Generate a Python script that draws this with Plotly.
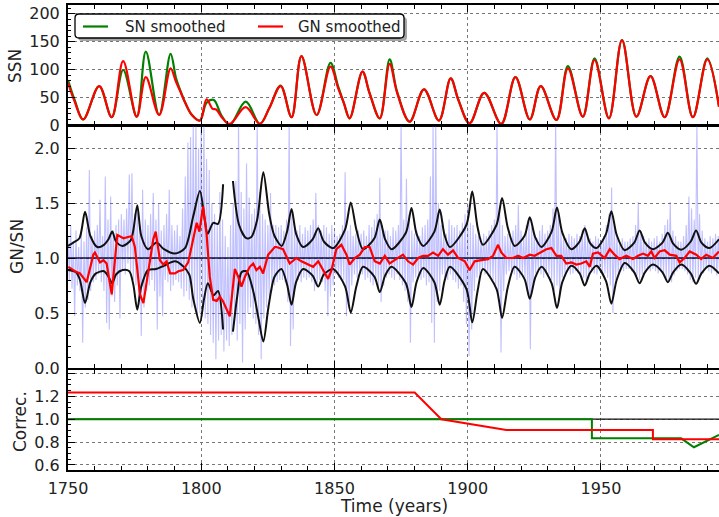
import numpy as np
import plotly.graph_objects as go

# ---------------- Top panel: smoothed sunspot numbers ----------------
sn_years = [1750.0, 1752.5, 1755.7, 1761.7, 1766.4, 1770.7, 1775.8, 1779.2, 1784.2, 1788.5,
            1790.5, 1792.0, 1794.0, 1796.5, 1799.5, 1802.0, 1804.7, 1807.5, 1810.7, 1816.7,
            1822.0, 1825.5, 1829.8, 1833.9, 1837.6, 1843.3, 1848.5, 1851.4, 1853.5, 1855.7,
            1860.5, 1863.2, 1867.0, 1870.7, 1873.5, 1878.2, 1883.6, 1889.2, 1893.6, 1896.5,
            1900.7, 1906.2, 1912.6, 1917.9, 1923.3, 1927.4, 1933.3, 1937.6, 1943.2, 1947.6,
            1953.0, 1957.9, 1963.3, 1968.6, 1973.9, 1979.5, 1984.5, 1989.9, 1994.3]
sn_values = [81, 45, 10, 70, 14, 99, 15, 132, 18, 128,
             85, 64, 40, 18, 8, 40, 45, 18, 0, 42,
             2, 30, 71, 14, 124, 18, 112, 69, 40, 12,
             96, 57, 12, 118, 60, 6, 64, 8, 84, 45,
             3, 58, 2, 86, 10, 70, 9, 106, 15, 120,
             12, 153, 15, 88, 14, 123, 14, 120, 33]

gn_years = [1750.0, 1752.5, 1755.7, 1761.7, 1766.4, 1770.7, 1775.8, 1779.2, 1784.2, 1788.5,
            1790.5, 1792.0, 1794.0, 1796.5, 1799.5, 1802.0, 1804.3, 1805.6, 1808.0, 1810.7,
            1816.7, 1822.0, 1825.5, 1829.8, 1833.9, 1837.6, 1843.3, 1848.5, 1851.4, 1853.5,
            1855.7, 1860.5, 1863.2, 1867.0, 1870.7, 1873.5, 1878.2, 1883.6, 1889.2, 1893.6,
            1896.5, 1900.7, 1906.2, 1912.6, 1917.9, 1923.3, 1927.4, 1933.3, 1937.6, 1943.2,
            1947.6, 1953.0, 1957.9, 1963.3, 1968.6, 1973.9, 1979.5, 1984.5, 1989.9, 1994.3]
gn_values = [76, 42, 10, 70, 14, 115, 15, 86, 18, 102,
             78, 62, 40, 18, 8, 46, 29, 28, 12, 2,
             32, 2, 30, 70, 14, 124, 18, 105, 66, 40,
             12, 96, 57, 12, 110, 58, 6, 64, 8, 84,
             45, 3, 58, 2, 86, 10, 70, 9, 102, 15,
             117, 12, 153, 15, 88, 14, 118, 14, 118, 33]

# ---------------- Middle panel: GN/SN ratio ----------------
ratio_years = np.arange(1750, 1995)   # one high and one low reading per year
ratio_hi = [1.20, 1.30, 1.15, 1.25, 1.10, 1.22, 1.15, 1.28, 1.80, 1.20,
            1.25, 1.30, 1.53, 1.20, 1.74, 1.35, 1.56, 1.25, 1.30, 1.35,
            1.40, 1.35, 1.45, 1.76, 1.77, 1.40, 1.45, 1.30, 1.62, 1.35,
            1.30, 1.40, 1.59, 1.35, 1.50, 1.25, 1.30, 1.40, 1.62, 1.30,
            1.25, 1.30, 1.20, 1.45, 1.74, 2.05, 2.10, 2.25, 2.25, 2.00,
            2.25, 2.25, 1.90, 1.80, 1.50, 1.40, 1.30, 1.60, 1.35, 1.20,
            1.10, 1.30, 1.50, 1.70, 2.25, 1.60, 1.45, 1.86, 1.55, 1.40,
            1.45, 2.25, 1.60, 1.40, 1.35, 1.30, 1.59, 1.30, 1.30, 1.28,
            1.30, 1.25, 1.35, 2.25, 1.40, 1.30, 1.25, 1.30, 1.22, 1.28,
            1.25, 1.30, 1.35, 1.59, 1.30, 1.25, 1.30, 1.28, 1.22, 1.30,
            1.25, 1.20, 1.22, 1.30, 1.78, 1.25, 1.30, 1.20, 1.22, 1.25,
            1.22, 1.25, 1.20, 1.30, 1.28, 1.35, 1.40, 1.73, 1.30, 1.25,
            1.25, 1.20, 1.28, 1.25, 1.30, 2.25, 1.35, 1.72, 1.40, 1.25,
            1.22, 1.25, 1.20, 1.28, 1.30, 1.35, 1.74, 2.25, 2.25, 1.50,
            1.30, 1.25, 1.22, 1.35, 1.30, 1.28, 1.30, 1.25, 1.32, 1.40,
            1.50, 1.32, 1.30, 1.22, 1.20, 1.18, 1.22, 1.20, 1.25, 1.30,
            1.35, 2.25, 1.40, 1.30, 1.20, 1.22, 1.18, 1.25, 1.30, 1.48,
            1.25, 1.20, 1.30, 1.35, 1.28, 1.22, 1.18, 1.25, 1.30, 1.22,
            1.25, 1.30, 1.45, 2.25, 1.40, 1.25, 1.20, 1.18, 1.22, 1.20,
            1.18, 1.22, 1.20, 1.26, 1.30, 1.20, 1.18, 1.15, 1.20, 1.18,
            1.15, 1.20, 1.30, 1.40, 1.64, 1.30, 1.20, 1.15, 1.18, 1.15,
            1.15, 1.18, 1.20, 1.30, 1.51, 1.25, 1.20, 1.15, 1.18, 1.15,
            1.18, 1.20, 1.15, 1.22, 1.30, 1.35, 1.51, 1.25, 1.20, 1.15,
            1.15, 1.20, 1.30, 1.56, 1.45, 1.35, 2.25, 1.40, 1.25, 1.18,
            1.15, 1.20, 1.18, 1.22, 1.20]
ratio_lo = [0.80, 0.72, 0.47, 0.75, 0.70, 0.23, 0.55, 0.62, 0.70, 0.78,
            0.80, 0.85, 0.78, 0.70, 0.41, 0.35, 0.65, 0.60, 0.75, 0.45,
            0.90, 0.85, 0.95, 0.88, 0.80, 0.75, 0.60, 0.29, 0.55, 0.70,
            0.75, 0.80, 0.70, 0.35, 0.65, 0.47, 0.80, 0.78, 0.70, 0.75,
            0.80, 0.78, 0.72, 0.65, 0.70, 0.62, 0.55, 0.60, 0.45, 0.50,
            0.55, 0.45, 0.40, 0.30, 0.23, 0.08, 0.25, 0.30, 0.15, 0.25,
            0.20, 0.30, 0.45, 0.25, 0.40, 0.05, 0.35, 0.50, 0.55, 0.45,
            0.40, 0.30, 0.08, 0.45, 0.55, 0.65, 0.70, 0.75, 0.78, 0.80,
            0.80, 0.78, 0.60, 0.20, 0.35, 0.75, 0.80, 0.78, 0.82, 0.80,
            0.82, 0.78, 0.70, 0.75, 0.80, 0.78, 0.70, 0.47, 0.65, 0.75,
            0.85, 0.82, 0.80, 0.80, 0.47, 0.59, 0.75, 0.85, 0.82, 0.85,
            0.85, 0.80, 0.82, 0.78, 0.75, 0.80, 0.70, 0.60, 0.75, 0.82,
            0.85, 0.82, 0.80, 0.85, 0.80, 0.75, 0.70, 0.60, 0.23, 0.78,
            0.82, 0.85, 0.80, 0.82, 0.75, 0.78, 0.41, 0.23, 0.60, 0.70,
            0.85, 0.82, 0.80, 0.85, 0.80, 0.78, 0.72, 0.75, 0.60, 0.40,
            0.11, 0.35, 0.70, 0.82, 0.85, 0.88, 0.85, 0.86, 0.82, 0.80,
            0.75, 0.60, 0.14, 0.70, 0.85, 0.88, 0.86, 0.85, 0.80, 0.82,
            0.85, 0.82, 0.70, 0.17, 0.75, 0.86, 0.88, 0.85, 0.82, 0.86,
            0.85, 0.80, 0.70, 0.75, 0.65, 0.82, 0.86, 0.88, 0.85, 0.86,
            0.88, 0.86, 0.85, 0.82, 0.80, 0.85, 0.88, 0.86, 0.85, 0.88,
            0.88, 0.86, 0.82, 0.75, 0.50, 0.80, 0.86, 0.88, 0.88, 0.90,
            0.90, 0.88, 0.86, 0.84, 0.80, 0.85, 0.88, 0.90, 0.88, 0.90,
            0.88, 0.86, 0.88, 0.85, 0.82, 0.80, 0.78, 0.84, 0.88, 0.90,
            0.90, 0.88, 0.85, 0.80, 0.78, 0.82, 0.80, 0.84, 0.86, 0.90,
            0.88, 0.86, 0.88, 0.84, 0.86]

smooth_years = [1750.1, 1752.6, 1754.5, 1757.0, 1759.5, 1760.1, 1762.0, 1763.3, 1764.5, 1766.4,
                1767.6, 1768.5, 1770.8, 1773.9, 1775.1, 1777.0, 1778.3, 1780.1, 1782.0, 1782.9,
                1784.5, 1785.8, 1787.0, 1788.3, 1790.1, 1791.4, 1793.2, 1795.1, 1797.0, 1798.3,
                1799.3, 1800.7, 1802.0, 1803.2, 1804.5, 1805.8, 1807.0, 1808.3, 1810.7, 1812.6,
                1813.9, 1815.1, 1816.4, 1818.2, 1819.5, 1820.7, 1822.0, 1823.2, 1825.1, 1827.6,
                1828.2, 1830.7, 1833.2, 1835.7, 1837.6, 1839.5, 1842.0, 1843.9, 1845.7, 1847.6,
                1848.9, 1850.7, 1852.6, 1854.5, 1855.7, 1857.6, 1859.5, 1861.4, 1863.2, 1865.1,
                1867.0, 1868.9, 1870.7, 1873.9, 1875.7, 1877.6, 1879.5, 1881.4, 1883.2, 1885.1,
                1887.0, 1888.9, 1890.7, 1892.6, 1894.5, 1896.4, 1898.9, 1900.7, 1902.6, 1905.1,
                1907.6, 1909.5, 1911.4, 1912.6, 1914.5, 1917.0, 1918.9, 1920.8, 1923.3, 1925.1,
                1927.6, 1929.5, 1931.4, 1933.3, 1935.1, 1937.0, 1938.9, 1940.8, 1942.6, 1944.5,
                1945.8, 1947.0, 1948.9, 1951.4, 1953.3, 1955.1, 1957.0, 1959.5, 1962.0, 1963.9,
                1965.8, 1967.6, 1968.9, 1970.1, 1972.0, 1973.9, 1975.8, 1978.3, 1979.5, 1981.4,
                1983.3, 1985.8, 1987.6, 1989.5, 1992.0, 1994.3]
smooth_ratio = [0.92, 0.88, 0.86, 0.78, 1.03, 1.05, 0.96, 0.98, 0.95, 0.67,
                0.98, 1.21, 1.18, 1.20, 1.10, 0.67, 0.59, 0.89, 1.17, 1.24,
                0.98, 0.94, 0.97, 0.86, 0.86, 0.88, 0.89, 0.96, 1.17, 1.32,
                1.24, 1.47, 1.22, 0.83, 0.62, 0.61, 0.65, 0.60, 0.47, 0.90,
                0.83, 0.74, 0.83, 0.92, 0.95, 0.89, 0.92, 0.86, 1.03, 1.10,
                1.10, 1.08, 0.95, 1.00, 0.97, 0.95, 0.92, 0.97, 0.89, 0.81,
                0.89, 1.08, 1.12, 1.03, 0.94, 1.00, 1.03, 1.10, 1.10, 0.97,
                0.95, 1.02, 0.95, 1.00, 1.03, 0.97, 0.94, 1.00, 1.02, 1.02,
                1.05, 1.02, 1.08, 1.03, 1.07, 1.00, 0.97, 0.89, 0.97, 0.98,
                0.99, 1.02, 1.12, 1.05, 1.00, 1.00, 1.02, 1.00, 1.03, 1.02,
                1.05, 1.08, 1.09, 1.02, 1.02, 0.95, 0.96, 0.94, 0.95, 0.97,
                0.92, 1.04, 1.05, 1.00, 1.08, 1.03, 0.99, 1.02, 0.99, 1.02,
                1.04, 1.02, 1.06, 1.00, 1.06, 1.07, 1.03, 1.02, 0.96, 1.00,
                1.06, 1.03, 0.99, 1.03, 1.00, 1.06]

upper_years = [1750.0, 1752.0, 1754.3, 1756.4, 1758.4, 1761.0, 1763.5, 1765.2, 1766.6, 1768.0,
               1770.5, 1773.5, 1774.5, 1776.0, 1777.5, 1780.0, 1783.2, 1786.0, 1790.1, 1793.9,
               1797.0, 1799.5, 1801.3, 1802.4, 1804.5, 1806.3, 1808.2, 1810.0, 1811.9, 1814.2,
               1816.9, 1818.8, 1821.0, 1823.3, 1825.5, 1827.5, 1830.2, 1832.2, 1833.9, 1835.6,
               1838.2, 1841.8, 1843.9, 1846.0, 1849.5, 1854.0, 1856.1, 1858.2, 1860.7, 1865.0,
               1867.0, 1869.0, 1871.4, 1876.8, 1878.9, 1880.8, 1883.3, 1887.5, 1889.5, 1891.3,
               1893.3, 1899.5, 1901.7, 1903.7, 1905.7, 1910.8, 1912.9, 1915.0, 1917.6, 1921.3,
               1923.3, 1925.3, 1927.7, 1931.5, 1933.5, 1935.5, 1938.9, 1942.0, 1943.9, 1945.8,
               1948.3, 1951.9, 1953.9, 1955.9, 1958.9, 1962.5, 1964.5, 1966.5, 1969.5, 1973.1,
               1975.1, 1977.1, 1980.1, 1983.7, 1985.7, 1987.7, 1990.7, 1994.3]
upper_band = [1.11, 1.14, 1.18, 1.42, 1.20, 1.10, 1.12, 1.17, 1.24, 1.15,
              1.11, 1.16, 1.25, 1.48, 1.20, 1.08, 1.14, 1.08, 1.04, 1.09,
              1.38, 1.61, 1.35, 1.22, 1.32, 1.31, 1.67, None, 1.70, 1.30,
              1.18, 1.19, 1.35, 1.78, 1.40, 1.20, 1.11, 1.24, 1.445, 1.22,
              1.10, 1.17, 1.27, 1.15, 1.09, 1.26, 1.505, 1.26, 1.08, 1.18,
              1.35, 1.17, 1.08, 1.23, 1.455, 1.22, 1.11, 1.24, 1.44, 1.21,
              1.10, 1.30, 1.605, 1.28, 1.12, 1.30, 1.545, 1.28, 1.11, 1.20,
              1.37, 1.19, 1.10, 1.24, 1.46, 1.23, 1.08, 1.15, 1.27, 1.14,
              1.09, 1.22, 1.425, 1.21, 1.07, 1.14, 1.25, 1.14, 1.08, 1.14,
              1.23, 1.13, 1.075, 1.15, 1.25, 1.14, 1.09, 1.17]

lower_years = [1750.0, 1753.0, 1754.5, 1756.4, 1758.4, 1760.5, 1763.5, 1765.2, 1766.6, 1768.0,
               1770.5, 1773.0, 1774.5, 1776.0, 1777.5, 1780.0, 1783.0, 1786.0, 1790.1, 1793.0,
               1795.5, 1797.0, 1799.5, 1801.0, 1802.5, 1804.6, 1806.3, 1808.2, 1810.0, 1811.9,
               1813.5, 1815.1, 1817.0, 1819.5, 1821.5, 1823.3, 1825.2, 1827.5, 1830.1, 1832.2,
               1833.9, 1835.6, 1838.2, 1841.8, 1843.9, 1846.0, 1849.5, 1854.0, 1856.1, 1858.2,
               1860.7, 1865.0, 1867.0, 1869.0, 1871.4, 1876.8, 1878.9, 1880.8, 1883.3, 1887.5,
               1889.5, 1891.3, 1893.3, 1899.5, 1901.7, 1903.7, 1905.7, 1910.8, 1912.9, 1915.0,
               1917.6, 1921.3, 1923.3, 1925.3, 1927.7, 1931.5, 1933.5, 1935.5, 1938.9, 1942.0,
               1943.9, 1945.8, 1948.3, 1951.9, 1953.9, 1955.9, 1958.9, 1962.5, 1964.5, 1966.5,
               1969.5, 1973.1, 1975.1, 1977.1, 1980.1, 1983.7, 1985.7, 1987.7, 1990.7, 1994.3]
lower_band = [0.89, 0.87, 0.80, 0.59, 0.78, 0.86, 0.88, 0.83, 0.77, 0.85,
              0.89, 0.88, 0.76, 0.53, 0.74, 0.89, 0.90, 0.93, 0.97, 0.93,
              0.85, 0.63, 0.41, 0.62, 0.77, 0.66, 0.70, 0.35, None, 0.33,
              0.65, 0.87, 0.88, 0.70, 0.45, 0.24, 0.55, 0.83, 0.90, 0.76,
              0.575, 0.78, 0.90, 0.84, 0.74, 0.85, 0.90, 0.74, 0.505, 0.74,
              0.92, 0.83, 0.69, 0.84, 0.92, 0.77, 0.555, 0.78, 0.91, 0.78,
              0.575, 0.79, 0.92, 0.72, 0.415, 0.70, 0.90, 0.72, 0.455, 0.73,
              0.92, 0.81, 0.63, 0.82, 0.92, 0.77, 0.545, 0.78, 0.93, 0.86,
              0.75, 0.86, 0.93, 0.79, 0.585, 0.80, 0.955, 0.87, 0.77, 0.87,
              0.94, 0.87, 0.78, 0.87, 0.94, 0.86, 0.765, 0.86, 0.93, 0.86]

# ---------------- Bottom panel: corrections ----------------
gn_corr_years = [1750.0, 1880.1, 1890.1, 1914.5, 1969.5, 1969.5, 1994.3]
gn_corr = [1.233, 1.233, 1.0, 0.906, 0.906, 0.825, 0.825]
sn_corr_years = [1750.0, 1946.6, 1946.6, 1980.1, 1984.9, 1994.3]
sn_corr = [1.0, 1.0, 0.833, 0.833, 0.755, 0.862]

legend_labels = ["SN smoothed", "GN smoothed"]

# ---------------- Figure ----------------
FONT = "DejaVu Sans"
TXT = "#222222"
X_RANGE = [1750, 1994.3]
GREEN = "#008000"
RED = "#ff0000"

fig = go.Figure()

# top
fig.add_trace(go.Scatter(x=sn_years, y=sn_values, name=legend_labels[0], mode="lines",
                         line=dict(color=GREEN, width=2.2, shape="spline", smoothing=1.0),
                         xaxis="x", yaxis="y"))
fig.add_trace(go.Scatter(x=gn_years, y=gn_values, name=legend_labels[1], mode="lines",
                         line=dict(color=RED, width=2.2, shape="spline", smoothing=1.0),
                         xaxis="x", yaxis="y"))

# middle
bx, by = [], []
for yr, h, l in zip(ratio_years, ratio_hi, ratio_lo):
    bx += [float(yr), float(yr) + 0.5]
    by += [h, l]
fig.add_trace(go.Scatter(x=bx, y=by, mode="lines",
                         line=dict(color="rgba(80,80,255,0.36)", width=1.1),
                         xaxis="x2", yaxis="y2"))
fig.add_trace(go.Scatter(x=X_RANGE, y=[1.0, 1.0], mode="lines",
                         line=dict(color="#111133", width=1.3), xaxis="x2", yaxis="y2"))
fig.add_trace(go.Scatter(x=upper_years, y=upper_band, mode="lines", connectgaps=False,
                         line=dict(color="#111111", width=2, shape="spline", smoothing=0.8),
                         xaxis="x2", yaxis="y2"))
fig.add_trace(go.Scatter(x=lower_years, y=lower_band, mode="lines", connectgaps=False,
                         line=dict(color="#111111", width=2, shape="spline", smoothing=0.8),
                         xaxis="x2", yaxis="y2"))
fig.add_trace(go.Scatter(x=smooth_years, y=smooth_ratio, mode="lines",
                         line=dict(color=RED, width=2.2), xaxis="x2", yaxis="y2"))

# bottom
fig.add_trace(go.Scatter(x=X_RANGE, y=[1.0, 1.0], mode="lines",
                         line=dict(color="#111111", width=1.3), xaxis="x3", yaxis="y3"))
fig.add_trace(go.Scatter(x=sn_corr_years, y=sn_corr, mode="lines",
                         line=dict(color=GREEN, width=2), xaxis="x3", yaxis="y3"))
fig.add_trace(go.Scatter(x=gn_corr_years, y=gn_corr, mode="lines",
                         line=dict(color=RED, width=2), xaxis="x3", yaxis="y3"))

H_PLOT = 465.0
W_PLOT = 651.0
def dom(top_px, bot_px):
    return [(470 - bot_px) / H_PLOT, (470 - top_px) / H_PLOT]
def ypaper(px):
    return (470 - px) / H_PLOT
def xpaper(px):
    return (px - 68) / W_PLOT

grid = dict(showgrid=True, gridcolor="#777777", griddash="dot", gridwidth=1)
xcommon = dict(range=X_RANGE, tick0=1750, dtick=50, ticks="inside", ticklen=7, tickwidth=1.2,
               tickcolor="black", showline=True, linecolor="black", linewidth=2, mirror="ticks",
               minor=dict(ticks="inside", ticklen=4, tickcolor="black", dtick=10, tick0=1750,
                          showgrid=False),
               zeroline=False, automargin=False, **grid)
ycommon = dict(ticks="inside", ticklen=7, tickwidth=1.2, tickcolor="black", showline=True,
               linecolor="black", linewidth=2, mirror=False, zeroline=False,
               ticklabelstandoff=3, automargin=False, **grid)

fig.update_layout(
    width=719, height=517,
    margin=dict(l=68, r=0, t=5, b=47, autoexpand=False),
    paper_bgcolor="white", plot_bgcolor="white",
    font=dict(family=FONT, size=16, color=TXT),
    showlegend=False,
    xaxis=dict(domain=[0, 1], anchor="y", showticklabels=False, **xcommon),
    xaxis2=dict(domain=[0, 1], anchor="y2", showticklabels=False, **xcommon),
    xaxis3=dict(domain=[0, 1], anchor="y3", showticklabels=True, ticklabelstandoff=3,
                tickfont=dict(size=16), **xcommon),
    yaxis=dict(domain=dom(5, 125), anchor="x", range=[0, 216],
               tickvals=[0, 50, 100, 150, 200],
               minor=dict(ticks="inside", ticklen=3, tickcolor="black", dtick=10, tick0=0),
               **ycommon),
    yaxis2=dict(domain=dom(126, 368), anchor="x2", range=[0, 2.2],
                tickvals=[0, 0.5, 1.0, 1.5, 2.0], ticktext=["0.0", "0.5", "1.0", "1.5", "2.0"],
                minor=dict(ticks="inside", ticklen=3, tickcolor="black", dtick=0.1, tick0=0),
                **ycommon),
    yaxis3=dict(domain=dom(370, 470), anchor="x3", range=[0.556, 1.43],
                tickvals=[0.6, 0.8, 1.0, 1.2, 1.4], ticktext=["0.6", "0.8", "1.0", "1.2", ""],
                minor=dict(ticks="inside", ticklen=3, tickcolor="black", dtick=0.05, tick0=0),
                **ycommon),
)

# legend box drawn as shapes (rounded frame with a soft shadow)
def rounded_path(x0, y0, x1, y1, r):
    X0, X1 = xpaper(x0), xpaper(x1)
    Y0, Y1 = ypaper(y0), ypaper(y1)
    rx, ry = r / W_PLOT, r / H_PLOT
    return (f"M {X0+rx},{Y0} L {X1-rx},{Y0} Q {X1},{Y0} {X1},{Y0-ry} "
            f"L {X1},{Y1+ry} Q {X1},{Y1} {X1-rx},{Y1} L {X0+rx},{Y1} "
            f"Q {X0},{Y1} {X0},{Y1+ry} L {X0},{Y0-ry} Q {X0},{Y0} {X0+rx},{Y0} Z")

fig.add_shape(type="path", path=rounded_path(78, 17, 407, 41, 4), xref="paper", yref="paper",
              fillcolor="rgba(0,0,0,0.35)", line=dict(width=0), layer="above")
fig.add_shape(type="path", path=rounded_path(75, 14, 404, 38, 4), xref="paper", yref="paper",
              fillcolor="white", line=dict(color="black", width=1.3), layer="above")
for (lx0, lx1, tx, col, lab) in [(83, 108, 123, GREEN, legend_labels[0]),
                                 (258, 283, 296, RED, legend_labels[1])]:
    fig.add_shape(type="line", x0=xpaper(lx0), x1=xpaper(lx1), y0=ypaper(26.5), y1=ypaper(26.5),
                  xref="paper", yref="paper", line=dict(color=col, width=2.2), layer="above")
    fig.add_annotation(text=lab, x=xpaper(tx), y=ypaper(26.5), xref="paper", yref="paper",
                       showarrow=False, xanchor="left", yanchor="middle",
                       font=dict(family=FONT, size=15, color=TXT))

for label, xp, yp in [("SSN", 15, 66), ("GN/SN", 17, 247), ("Correc.", 20, 422)]:
    fig.add_annotation(text=label, x=xpaper(xp), y=ypaper(yp), xref="paper", yref="paper",
                       textangle=-90, showarrow=False, xanchor="center", yanchor="middle",
                       font=dict(family=FONT, size=17, color=TXT))
fig.add_annotation(text="Time (years)", x=xpaper(394), y=ypaper(506), xref="paper", yref="paper",
                   showarrow=False, xanchor="center", yanchor="middle",
                   font=dict(family=FONT, size=17, color=TXT))

fig.write_html("out.html", config={"displayModeBar": False},
               post_script="document.body.style.margin='0';document.body.style.overflow='hidden';")
